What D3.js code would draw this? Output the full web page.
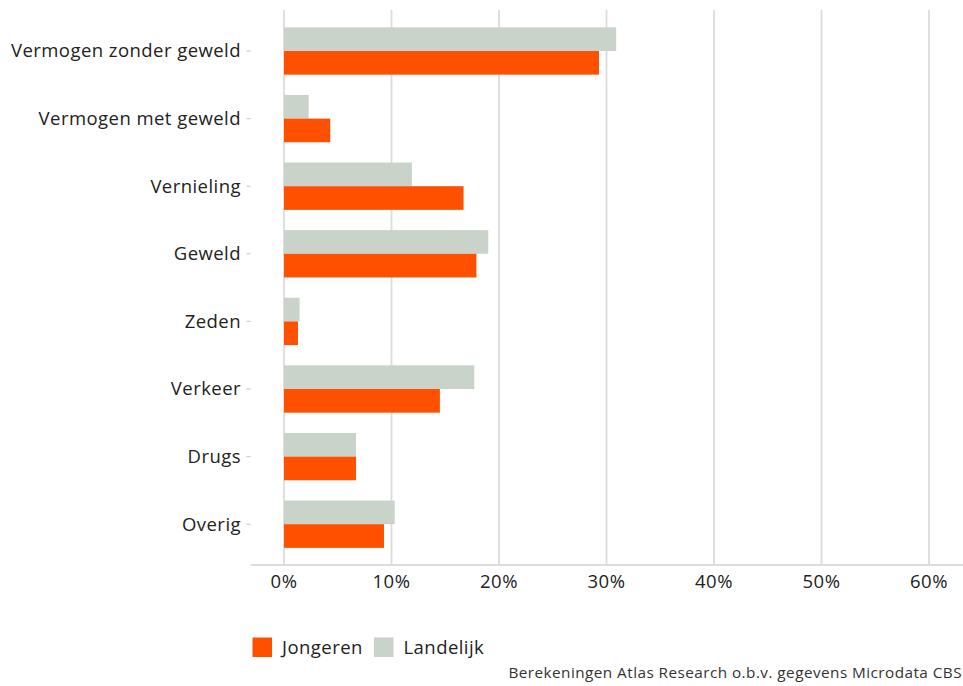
<!DOCTYPE html>
<html>
<head>
<meta charset="utf-8">
<script src="https://cdn.jsdelivr.net/npm/d3@7"></script>
<style>
  body { margin: 0; background: #fff; }
  svg { display: block; font-family: "Open Sans", sans-serif; }
</style>
</head>
<body>
<svg id="chart" width="963" height="686"></svg>
<script>
const categories = ["Vermogen zonder geweld", "Vermogen met geweld", "Vernieling", "Geweld", "Zeden", "Verkeer", "Drugs", "Overig"];
const seriesNames = ["Landelijk", "Jongeren"];
const landelijk = [30.9, 2.3, 11.9, 19.0, 1.45, 17.7, 6.7, 10.3];
const jongeren = [29.3, 4.3, 16.7, 17.9, 1.3, 14.5, 6.7, 9.3];
const xTicks = [0, 10, 20, 30, 40, 50, 60];
const legendNames = ["Jongeren", "Landelijk"];
const sourceText = "Berekeningen Atlas Research o.b.v. gegevens Microdata CBS";

const colors = { "Jongeren": "#FF5000", "Landelijk": "#C9D3CA" };
const values = { "Landelijk": landelijk, "Jongeren": jongeren };

const svg = d3.select("#chart");
const panelLeft = 250.5, panelRight = 963, panelTop = 10, panelBottom = 565;

const x = d3.scaleLinear().domain([0, 60]).range([284, 929]);
const y = d3.scaleBand().domain(categories).range([17.2, 558]).paddingInner(0.3).paddingOuter(0.15);
const ySub = d3.scaleBand().domain(seriesNames).range([0, y.bandwidth()]);

// gridlines
svg.append("g").selectAll("line").data(xTicks).join("line")
  .attr("x1", d => x(d)).attr("x2", d => x(d))
  .attr("y1", panelTop).attr("y2", panelBottom)
  .attr("stroke", "#dcdcdc").attr("stroke-width", 1.8);

// bars
const groups = svg.append("g").selectAll("g").data(categories).join("g")
  .attr("transform", d => `translate(0,${y(d)})`);
groups.selectAll("rect").data((d, i) => seriesNames.map(s => ({ s, v: values[s][i] })))
  .join("rect")
  .attr("x", x(0))
  .attr("y", d => ySub(d.s))
  .attr("width", d => x(d.v) - x(0))
  .attr("height", ySub.bandwidth())
  .attr("fill", d => colors[d.s]);

// x axis line
svg.append("line").attr("x1", panelLeft).attr("x2", panelRight)
  .attr("y1", panelBottom).attr("y2", panelBottom)
  .attr("stroke", "#dcdcdc").attr("stroke-width", 2);

// x tick labels
svg.append("g").selectAll("text").data(xTicks).join("text")
  .attr("x", d => x(d)).attr("y", 588)
  .attr("text-anchor", "middle")
  .attr("font-size", 18.5).attr("letter-spacing", "0.45px").attr("fill", "#222")
  .text(d => d + "%");

// y ticks and labels
const yAxis = svg.append("g");
yAxis.selectAll("line").data(categories).join("line")
  .attr("x1", 246.5).attr("x2", 250.5)
  .attr("y1", d => y(d) + y.bandwidth() / 2).attr("y2", d => y(d) + y.bandwidth() / 2)
  .attr("stroke", "#cccccc").attr("stroke-width", 1.2);
yAxis.selectAll("text").data(categories).join("text")
  .attr("x", 241).attr("y", d => y(d) + y.bandwidth() / 2)
  .attr("dy", "0.35em")
  .attr("text-anchor", "end")
  .attr("font-size", 18.5).attr("letter-spacing", "0.45px").attr("fill", "#222")
  .text(d => d);

// legend
const legendX = [252.5, 374];
const legend = svg.append("g").selectAll("g").data(legendNames).join("g")
  .attr("transform", (d, i) => `translate(${legendX[i]},637.5)`);
legend.append("rect").attr("width", 19.5).attr("height", 19.5).attr("fill", d => colors[d]);
legend.append("text").attr("x", 29.5).attr("y", 10).attr("dy", "0.35em")
  .attr("font-size", 18.5).attr("letter-spacing", "0.45px").attr("fill", "#222").text(d => d);

// source
svg.append("text").attr("x", 962).attr("y", 678)
  .attr("text-anchor", "end").attr("font-size", 15.3).attr("letter-spacing", "0.45px").attr("fill", "#333")
  .text(sourceText);
</script>
</body>
</html>
